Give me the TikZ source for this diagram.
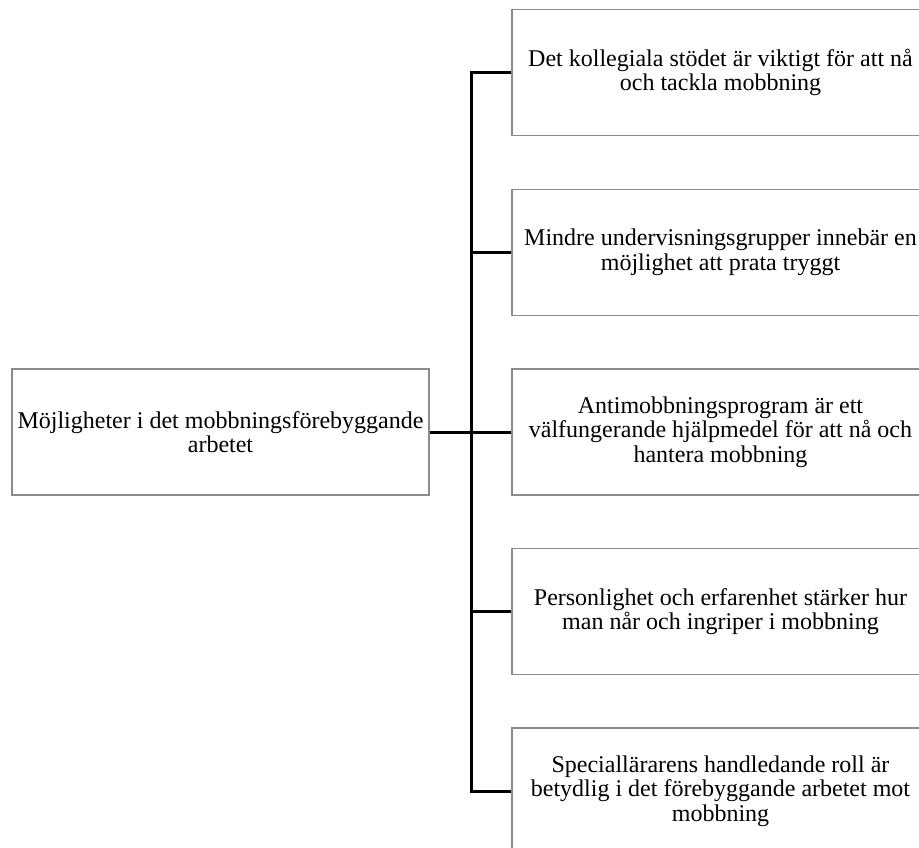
\documentclass[tikz,border=0pt]{standalone}
\usepackage{fontspec}
\setmainfont{Liberation Serif}
\begin{document}
\begin{tikzpicture}[x=1pt,y=-1pt,
  box/.style={draw=black!45, line width=1.3pt, fill=white,
    minimum width=417pt, minimum height=126pt, inner sep=0pt,
    align=center, font=\fontsize{24}{24.5}\selectfont},
  link/.style={line width=3pt, black}]
  \useasboundingbox (0,0) rectangle (919,848);
  \clip (0,0) rectangle (919,848);

  % root topic
  \node[box] (root) at (220.5,432) {Möjligheter i det mobbningsförebyggande\\arbetet};

  % sub-topics
  \node[box] (c1) at (720.5,72.5) {Det kollegiala stödet är viktigt för att nå\\och tackla mobbning};
  \node[box] (c2) at (720.5,252.5) {Mindre undervisningsgrupper innebär en\\möjlighet att prata tryggt};
  \node[box] (c3) at (720.5,432) {Antimobbningsprogram är ett\\välfungerande hjälpmedel för att nå och\\hantera mobbning};
  \node[box] (c4) at (720.5,611.5) {Personlighet och erfarenhet stärker hur\\man når och ingriper i mobbning};
  \node[box] (c5) at (720.5,791) {Speciallärarens handledande roll är\\betydlig i det förebyggande arbetet mot\\mobbning};

  % connectors through a shared vertical bus
  \coordinate (bus) at (471,432);
  \draw[link] (root.east) -- (bus);
  \foreach \c in {c1,c2,c3,c4,c5}
    \draw[link] (\c.west) -| (bus);
\end{tikzpicture}
\end{document}
